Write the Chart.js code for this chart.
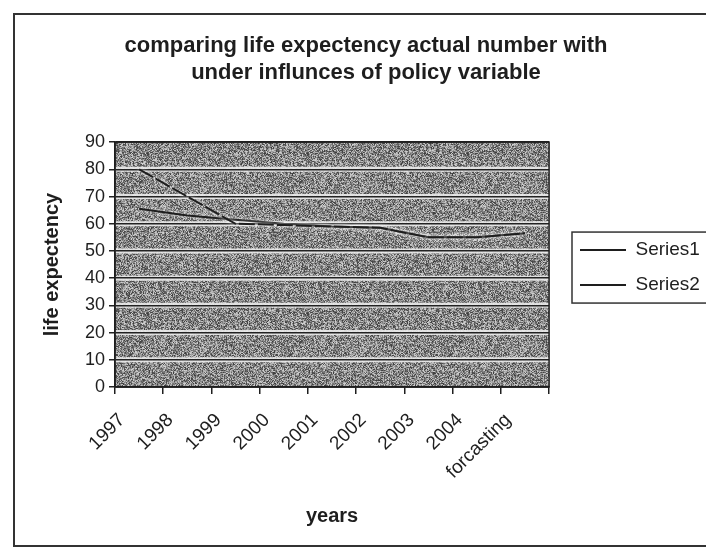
<!DOCTYPE html>
<html>
<head>
<meta charset="utf-8">
<script src="https://cdn.jsdelivr.net/npm/chart.js@4.4.1/dist/chart.umd.min.js"></script>
<style>
  html, body { margin: 0; padding: 0; background: #fff; overflow: hidden; }
  #wrap { width: 706px; height: 548px; }
</style>
</head>
<body>
<div id="wrap"><canvas id="lifeChart" width="706" height="548"></canvas></div>
<script>
// Chart data
const years = ['1997', '1998', '1999', '2000', '2001', '2002', '2003', '2004', 'forcasting'];
const series1 = [80, 70, 60, 59.5, 59, 58.5, 55, 55, 56.5];
const series2 = [65.5, 63, 61.5, 60, 59, 58.5, 55, 55, 56.5];
const seriesNames = ['Series1', 'Series2'];
const titleLines = ['comparing life expectency actual number with', 'under influnces of policy variable'];

const ink = '#1e1e1e';
const sans = "'Liberation Sans', Arial, sans-serif";

// grainy grey texture for the plot area, like the photocopy
function makeGrain() {
    const size = 160;
    const c = document.createElement('canvas');
    c.width = size; c.height = size;
    const g = c.getContext('2d');
    const img = g.createImageData(size, size);
    for (let i = 0; i < size * size; i++) {
        const s = Math.sin(i * 12.9898 + (i % size) * 78.233) * 43758.5453;
        const n = s - Math.floor(s);
        const v = Math.round(60 + n * 150);
        img.data[i * 4] = v;
        img.data[i * 4 + 1] = v;
        img.data[i * 4 + 2] = v;
        img.data[i * 4 + 3] = 255;
    }
    g.putImageData(img, 0, 0);
    return c;
}

const pageFrame = {
    id: 'pageFrame',
    afterLayout(chart) {
        // push the legend a bit away from the plot, and centre the title like the original
        const lg = chart.legend;
        const dx = 580 - (lg.left + lg.options.labels.padding);
        lg.left += dx;
        lg.right += dx;
        lg.top += 3;
        lg.bottom += 3;
        const tb = chart.titleBlock;
        const tx = 366 - (tb.left + tb.right) / 2;
        tb.left += tx;
        tb.right += tx;
    },
    beforeDraw(chart) {
        const ctx = chart.ctx;
        const a = chart.chartArea;
        ctx.save();
        ctx.fillStyle = '#fff';
        ctx.fillRect(0, 0, chart.width, chart.height);
        // outer chart border
        ctx.strokeStyle = '#333';
        ctx.lineWidth = 2;
        ctx.strokeRect(14, 14, chart.width + 20, 532);
        // plot area fill
        ctx.fillStyle = ctx.createPattern(makeGrain(), 'repeat');
        ctx.fillRect(a.left, a.top, a.right - a.left, a.bottom - a.top);
        // pale halo under each gridline
        const y = chart.scales.y;
        ctx.strokeStyle = 'rgba(235,235,235,0.9)';
        ctx.lineWidth = 5;
        y.ticks.forEach(t => {
            const py = y.getPixelForValue(t.value);
            if (py <= a.top + 2 || py >= a.bottom - 2) return;
            ctx.beginPath();
            ctx.moveTo(a.left, py);
            ctx.lineTo(a.right, py);
            ctx.stroke();
        });
        ctx.restore();
    },
    beforeDatasetsDraw(chart) {
        // light halo round the lines, as on the scan
        chart.ctx.save();
        chart.ctx.shadowColor = 'rgba(255,255,255,0.95)';
        chart.ctx.shadowBlur = 4;
    },
    afterDatasetsDraw(chart) {
        const ctx = chart.ctx;
        ctx.restore();
        const a = chart.chartArea;
        ctx.save();
        ctx.strokeStyle = ink;
        ctx.lineWidth = 1.5;
        ctx.strokeRect(a.left, a.top, a.right - a.left, a.bottom - a.top);
        ctx.restore();
    },
    afterDraw(chart) {
        // box round the legend
        const boxes = chart.legend.legendHitBoxes;
        if (!boxes || !boxes.length) return;
        const first = boxes[0];
        const last = boxes[boxes.length - 1];
        const ctx = chart.ctx;
        ctx.save();
        ctx.strokeStyle = '#333';
        ctx.lineWidth = 1.5;
        ctx.strokeRect(first.left - 8, first.top - 8.5, chart.width, last.top + last.height - first.top + 17);
        ctx.restore();
    }
};

const ctx = document.getElementById('lifeChart').getContext('2d');

new Chart(ctx, {
    type: 'line',
    data: {
        labels: years,
        datasets: [
            {
                label: seriesNames[0],
                data: series1,
                borderColor: ink,
                backgroundColor: ink,
                borderWidth: 2,
                borderDash: [16, 3],
                pointRadius: 0,
                fill: false,
                tension: 0
            },
            {
                label: seriesNames[1],
                data: series2,
                borderColor: ink,
                backgroundColor: ink,
                borderWidth: 2,
                pointRadius: 0,
                fill: false,
                tension: 0
            }
        ]
    },
    options: {
        responsive: false,
        animation: false,
        devicePixelRatio: 1,
        layout: {
            padding: { left: 26, right: 11, top: 32, bottom: 18 }
        },
        scales: {
            x: {
                type: 'category',
                offset: true,
                grid: {
                    offset: true,
                    drawOnChartArea: false,
                    tickLength: 7,
                    color: ink,
                    lineWidth: 1.5
                },
                border: { color: ink, width: 1.5 },
                ticks: {
                    autoSkip: false,
                    minRotation: 45,
                    maxRotation: 45,
                    padding: 15,
                    labelOffset: -17,
                    color: ink,
                    font: { family: sans, size: 19 }
                },
                title: {
                    display: true,
                    text: 'years',
                    color: ink,
                    font: { family: sans, size: 20, weight: 'bold' },
                    padding: { top: 4, bottom: 2 }
                },
                afterFit(scale) {
                    scale.height = 548 - 387 - 18;
                }
            },
            y: {
                min: 0,
                max: 90,
                ticks: {
                    stepSize: 10,
                    padding: 4,
                    color: ink,
                    font: { family: sans, size: 18 }
                },
                grid: {
                    color: '#222',
                    lineWidth: 1.5,
                    tickLength: 6
                },
                border: { color: ink, width: 1.5 },
                title: {
                    display: true,
                    text: 'life expectency',
                    color: ink,
                    font: { family: sans, size: 20, weight: 'bold' },
                    padding: { top: 14, bottom: 4 }
                },
                afterFit(scale) {
                    scale.width = 115 - 26;
                }
            }
        },
        plugins: {
            title: {
                display: true,
                text: titleLines,
                color: ink,
                font: { family: sans, size: 22, weight: 'bold', lineHeight: 1.23 },
                padding: { top: 0, bottom: 56 }
            },
            legend: {
                position: 'right',
                fullSize: false,
                labels: {
                    usePointStyle: true,
                    pointStyle: 'line',
                    pointStyleWidth: 46,
                    padding: 16,
                    color: ink,
                    font: { family: sans, size: 19 }
                }
            },
            tooltip: { enabled: false }
        }
    },
    plugins: [pageFrame]
});
</script>
</body>
</html>
